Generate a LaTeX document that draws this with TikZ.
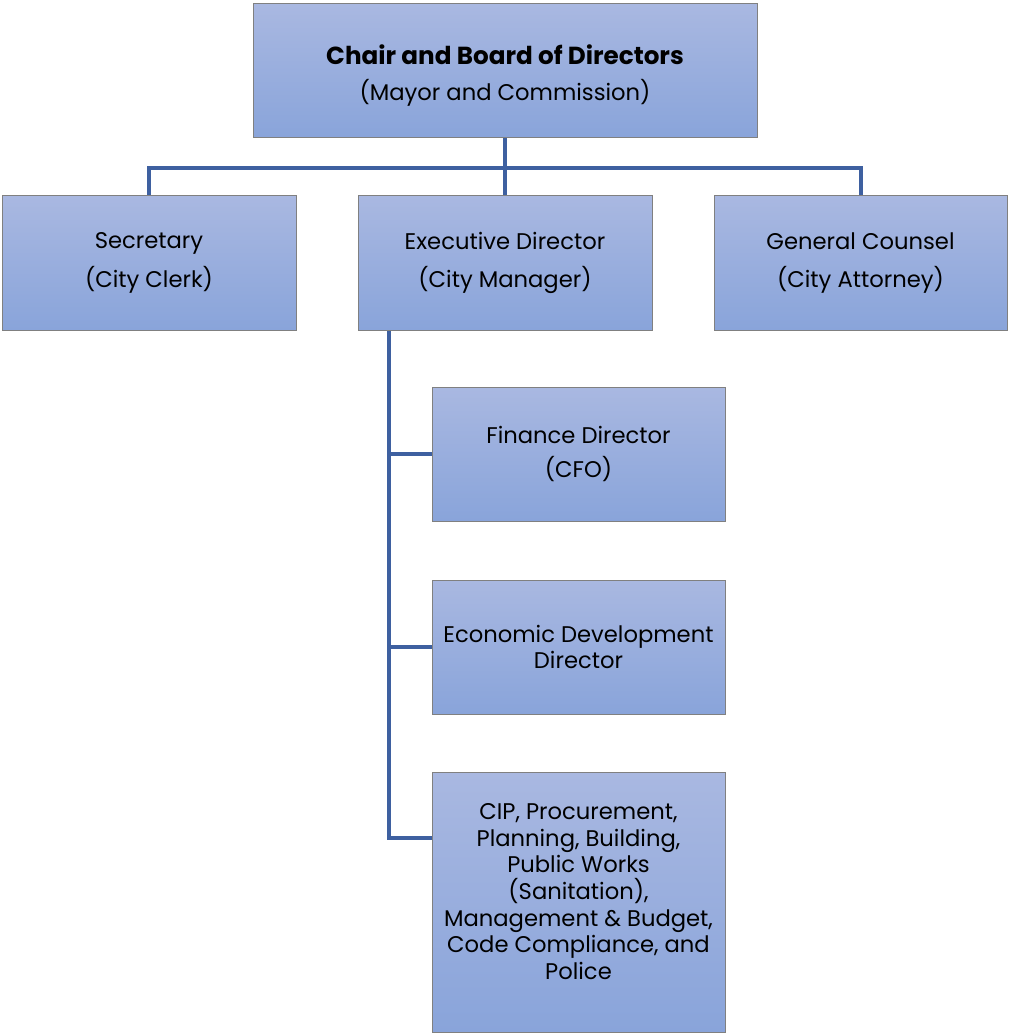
\documentclass[tikz,border=0pt]{standalone}
\usepackage{fontspec}
\setmainfont{Poppins}
\definecolor{linkblue}{RGB}{62,96,160}
\definecolor{boxtop}{RGB}{169,184,225}
\definecolor{boxbot}{RGB}{137,164,218}
\tikzset{
	orgbox/.style={draw={rgb, 255:red, 128; green, 128; blue, 128}, line width=0.75pt, top color=boxtop, bottom color=boxbot, align=center, inner sep=0pt, font=\fontsize{17}{20}\selectfont},
	link/.style={draw=linkblue, line width=3pt}
}
\begin{document}
\begin{tikzpicture}[x=0.75pt,y=0.75pt,yscale=-1,xscale=1]
	\useasboundingbox (0,0) rectangle (1008,1034);
	\node [orgbox, minimum width=378pt, minimum height=100.5pt] (board) at (505,71) {\rule{0pt}{22pt}{\fontsize{18.5}{20}\selectfont\bfseries Chair and Board of Directors}\\[7pt](Mayor and Commission)};
	\node [orgbox, minimum width=220.5pt, minimum height=100.5pt] (clerk) at (149,263) {Secretary\\[8pt](City Clerk)};
	\node [orgbox, minimum width=220.5pt, minimum height=100.5pt] (manager) at (505,263) {Executive Director\\[8pt](City Manager)};
	\node [orgbox, minimum width=219.75pt, minimum height=100.5pt] (attorney) at (860.5,263) {General Counsel\\[8pt](City Attorney)};
	\node [orgbox, minimum width=219.75pt, minimum height=100.5pt] (cfo) at (578.5,454) {Finance Director\\[6pt](CFO)};
	\node [orgbox, minimum width=219.75pt, minimum height=100.5pt] (econ) at (578.5,647) {Economic Development\\Director};
	\node [orgbox, minimum width=219.75pt, minimum height=195pt] (depts) at (578.5,902) {CIP, Procurement,\\Planning, Building,\\Public Works\\(Sanitation),\\Management \& Budget,\\Code Compliance, and\\Police\\[-4pt]};
	\coordinate (bus) at (505,168);
	\coordinate (spine) at (389,838);
	\draw [link] (board.south) -- (manager.north);
	\draw [link] (clerk.north) |- (bus) -| (attorney.north);
	\draw [link] (manager.south west -| spine) -- (spine) -- (depts.west |- spine);
	\draw [link] (cfo.west -| spine) -- (cfo.west);
	\draw [link] (econ.west -| spine) -- (econ.west);
\end{tikzpicture}
\end{document}
